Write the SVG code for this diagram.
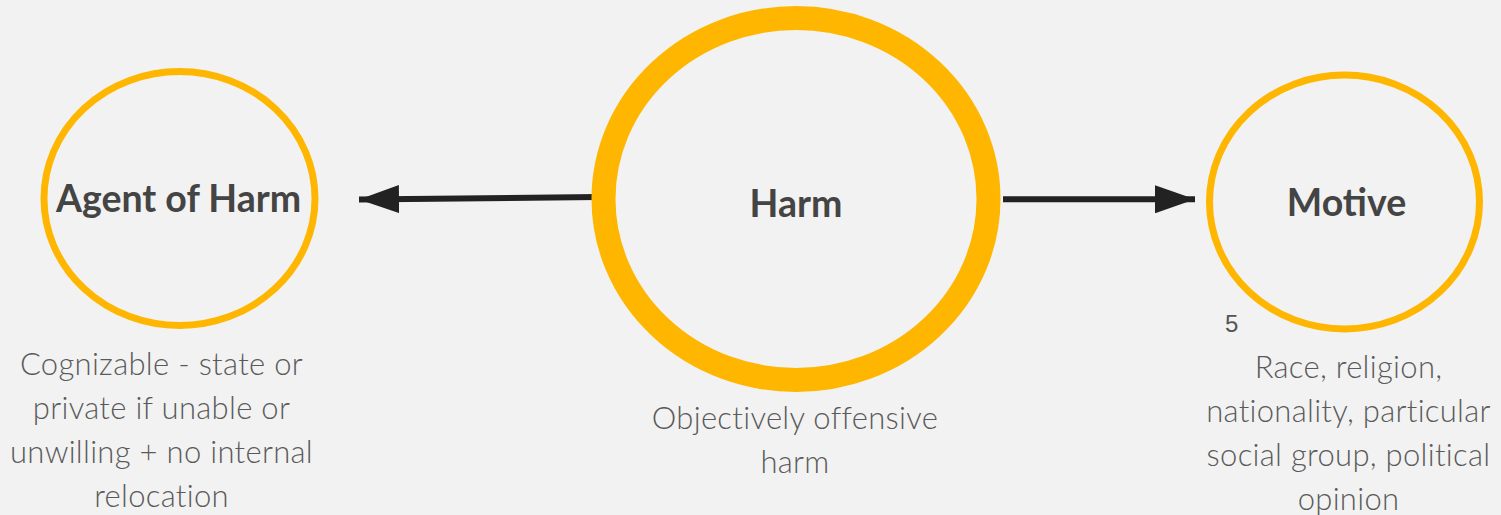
<svg xmlns="http://www.w3.org/2000/svg" width="1501" height="515" viewBox="0 0 1501 515">
<defs>
<style>
.ring{fill:none;stroke:#ffb600}
.title{font-family:Lato,"Open Sans","Liberation Sans",sans-serif;font-weight:700;font-size:37.5px;fill:#444444;text-anchor:middle}
.desc{font-family:Lato,"Open Sans","Liberation Sans",sans-serif;font-weight:300;font-size:31px;letter-spacing:0.3px;fill:#5a5a5a;text-anchor:middle}
.num{font-family:"Liberation Sans",Roboto,sans-serif;font-size:24px;fill:#555555}
.conn{stroke:#222222;stroke-width:6;fill:none}
</style>
<marker id="ah" viewBox="0 0 40 28" refX="40" refY="14" markerWidth="40" markerHeight="28" markerUnits="userSpaceOnUse" orient="auto">
<path d="M0,0 L40,14 L0,28 Z" fill="#222222"/>
</marker>
</defs>
<rect width="1501" height="515" fill="#f2f2f2"/>
<g id="connectors">
<path class="conn" d="M598,197 L359,199.5" marker-end="url(#ah)"/>
<path class="conn" d="M1003,199.3 L1195,199.3" marker-end="url(#ah)"/>
</g>
<g id="agent">
<ellipse class="ring" cx="179.5" cy="198.5" rx="135.5" ry="127" stroke-width="7"/>
<text class="title" x="178.5" y="212">Agent of Harm</text>
<text class="desc" x="161.5" y="375">Cognizable - state or</text>
<text class="desc" x="161.5" y="419">private if unable or</text>
<text class="desc" x="161.5" y="463">unwilling + no internal</text>
<text class="desc" x="161.5" y="507">relocation</text>
</g>
<g id="harm">
<ellipse class="ring" cx="796" cy="199" rx="192.5" ry="181" stroke-width="24"/>
<text class="title" x="796" y="217">Harm</text>
<text class="desc" x="795" y="429">Objectively offensive</text>
<text class="desc" x="795" y="473">harm</text>
</g>
<g id="motive">
<ellipse class="ring" cx="1344.5" cy="202" rx="135" ry="127" stroke-width="7"/>
<text class="title" x="1346.5" y="216">Motive</text>
<text class="num" x="1225" y="331.5">5</text>
<text class="desc" x="1348.5" y="378">Race, religion,</text>
<text class="desc" x="1348.5" y="422">nationality, particular</text>
<text class="desc" x="1348.5" y="466">social group, political</text>
<text class="desc" x="1348.5" y="510">opinion</text>
</g>
</svg>
